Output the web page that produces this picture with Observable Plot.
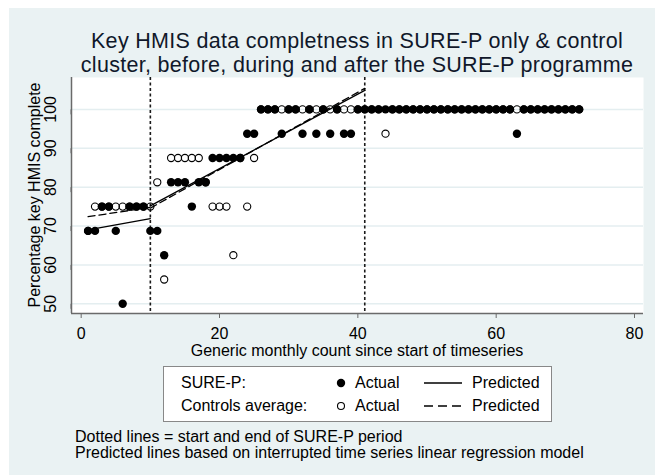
<!DOCTYPE html>
<html>
<head>
<meta charset="utf-8">
<script src="https://cdn.jsdelivr.net/npm/d3@7"></script>
<script src="https://cdn.jsdelivr.net/npm/@observablehq/plot@0.6"></script>
<style>
  body { margin: 0; background: #ffffff; }
  #wrap { position: relative; width: 655px; height: 475px; overflow: hidden; font-family: "Liberation Sans", Arial, sans-serif; color: #000; }
  #bg { position: absolute; left: 9px; top: 8px; width: 646px; height: 467px; background: #eaf2f3; }
  #chart { position: absolute; left: 0; top: 0; }
  .t { position: absolute; white-space: nowrap; }
  .tl { position: absolute; left: 57px; width: 600px; text-align: center; font-size: 21.5px; letter-spacing: 0.3px; line-height: 24px; color: #10182a; white-space: nowrap; }
  #xlabel { left: 57px; top: 341px; width: 600px; text-align: center; font-size: 16px; line-height: 20px; }
  #ylabel { left: 35px; top: 195px; font-size: 16px; line-height: 20px; transform: translate(-50%, -50%) rotate(-90deg); }
  #legend { position: absolute; left: 163px; top: 366px; width: 387px; height: 54px; background: #fff; border: 1px solid #888; }
  .lg { position: absolute; font-size: 16px; line-height: 20px; white-space: nowrap; }
  .nt { position: absolute; left: 75px; font-size: 16px; line-height: 16px; white-space: nowrap; }
</style>
</head>
<body>
<div id="wrap">
  <div id="bg"></div>
  <div id="chart"></div>
  <div class="tl" style="top:29px">Key HMIS data completness in SURE-P only &amp; control</div>
  <div class="tl" style="top:53px">cluster, before, during and after the SURE-P programme</div>
  <div class="t" id="xlabel">Generic monthly count since start of timeseries</div>
  <div class="t" id="ylabel">Percentage key HMIS complete</div>
  <div id="legend"></div>
  <div class="nt" style="top:429px">Dotted lines = start and end of SURE-P period</div>
  <div class="nt" style="top:445px">Predicted lines based on interrupted time series linear regression model</div>
</div>
<script>
// ---- Data ----
const months = [1,2,3,4,5,6,7,8,9,10,11,12,13,14,15,16,17,18,19,20,21,22,23,24,25,26,27,28,29,30,31,32,33,34,35,36,
                37,38,39,40,41,42,43,44,45,46,47,48,49,50,51,52,53,54,55,56,57,58,59,60,61,62,63,64,65,66,67,68,69,70,71,72];
const sureP = [68.75,68.75,75,75,68.75,50,75,75,75,68.75,68.75,62.5,81.25,81.25,81.25,75,81.25,81.25,
               87.5,87.5,87.5,87.5,87.5,93.75,93.75,100,100,100,93.75,100,100,93.75,100,93.75,100,93.75,
               100,93.75,93.75,100,100,100,100,100,100,100,100,100,100,100,100,100,100,100,100,100,100,100,
               100,100,100,100,93.75,100,100,100,100,100,100,100,100,100];
const controls = [68.75,75,75,75,75,75,75,75,75,75,81.25,56.25,87.5,87.5,87.5,87.5,87.5,81.25,
                  75,75,75,62.5,87.5,75,87.5,100,100,100,100,100,100,100,100,100,100,100,
                  100,100,100,100,100,100,100,93.75,100,100,100,100,100,100,100,100,100,100,100,100,100,100,
                  100,100,100,100,100,100,100,100,100,100,100,100,100,100];
// predicted (interrupted time series) segments
const predSegment = ["pre","pre","during","during"];
const predMonths = [1,10,10,41];
const predSureP = [69.0,71.9,75.2,104.9];
const predControls = [72.4,74.8,74.6,105.4];
const periodMarks = [10, 41];
const xTicks = [0,20,40,60,80];
const yTicks = [50,60,70,80,90,100];

// ---- Build tables ----
const pts = months.map((m, i) => ({m, s: sureP[i], c: controls[i]}));
const predS = predMonths.map((m, i) => ({m, v: predSureP[i], seg: predSegment[i]}));
const predC = predMonths.map((m, i) => ({m, v: predControls[i], seg: predSegment[i]}));

const xDom = [-1.4, 81.3], yDom = [47.5, 108.2];
const axisColor = "#6a6a6a";

const chart = Plot.plot({
  width: 655, height: 475,
  marginLeft: 71, marginRight: 12, marginTop: 77, marginBottom: 162,
  style: {background: "transparent", overflow: "visible", fontFamily: "'Liberation Sans', Arial, sans-serif", fontSize: "16px", color: "#000"},
  x: {domain: xDom},
  y: {domain: yDom},
  marks: [
    Plot.frame({fill: "white", stroke: null}),
    Plot.ruleY(yTicks, {stroke: "#e4eef0", strokeWidth: 1.5}),
    Plot.ruleX(periodMarks, {stroke: "#1a1a1a", strokeWidth: 1.6, strokeDasharray: "3,2.5"}),
    Plot.dot(pts, {x: "m", y: "c", r: 3.6, stroke: "black", strokeWidth: 1.1, fill: "none"}),
    Plot.dot(pts, {x: "m", y: "s", r: 4.2, fill: "black", stroke: null}),
    Plot.line(predS, {x: "m", y: "v", z: "seg", stroke: "black", strokeWidth: 1.3}),
    Plot.line(predC, {x: "m", y: "v", z: "seg", stroke: "black", strokeWidth: 1.3, strokeDasharray: "7,4"}),
    Plot.ruleX([xDom[0]], {stroke: axisColor, strokeWidth: 1.5}),
    Plot.ruleY([yDom[0]], {stroke: axisColor, strokeWidth: 1.5}),
    Plot.axisX({ticks: xTicks, tickSize: 5, tickPadding: 9, stroke: axisColor, label: null, fill: "#000"}),
    Plot.axisY({ticks: yTicks, tickSize: 5, tickPadding: 16, rotate: -90, textAnchor: "middle", stroke: axisColor, label: null, fill: "#000"})
  ]
});
document.getElementById("chart").appendChild(chart);

// ---- Legend ----
const legend = document.getElementById("legend");
const ox = 164, oy = 367; // inner origin of the legend box
function txt(s, x, cy) {
  const d = document.createElement("div");
  d.className = "lg"; d.textContent = s;
  d.style.left = (x - ox) + "px"; d.style.top = (cy - oy - 10) + "px";
  legend.appendChild(d);
}
const svgNS = "http://www.w3.org/2000/svg";
const sv = document.createElementNS(svgNS, "svg");
sv.setAttribute("width", 387); sv.setAttribute("height", 54);
sv.style.position = "absolute"; sv.style.left = "0"; sv.style.top = "0";
legend.appendChild(sv);
function el(tag, attrs) { const e = document.createElementNS(svgNS, tag); for (const k in attrs) e.setAttribute(k, attrs[k]); sv.appendChild(e); }
el("circle", {cx: 341 - ox, cy: 383 - oy, r: 4.2, fill: "black"});
el("circle", {cx: 341 - ox, cy: 406 - oy, r: 3.5, fill: "none", stroke: "black", "stroke-width": 1.1});
el("line", {x1: 424 - ox, x2: 462 - ox, y1: 383 - oy, y2: 383 - oy, stroke: "black", "stroke-width": 1.3});
el("line", {x1: 424 - ox, x2: 462 - ox, y1: 406 - oy, y2: 406 - oy, stroke: "black", "stroke-width": 1.3, "stroke-dasharray": "9,5"});
txt("SURE-P:", 181, 383);
txt("Controls average:", 181, 406);
txt("Actual", 355, 383);
txt("Actual", 355, 406);
txt("Predicted", 472, 383);
txt("Predicted", 472, 406);
</script>
</body>
</html>
